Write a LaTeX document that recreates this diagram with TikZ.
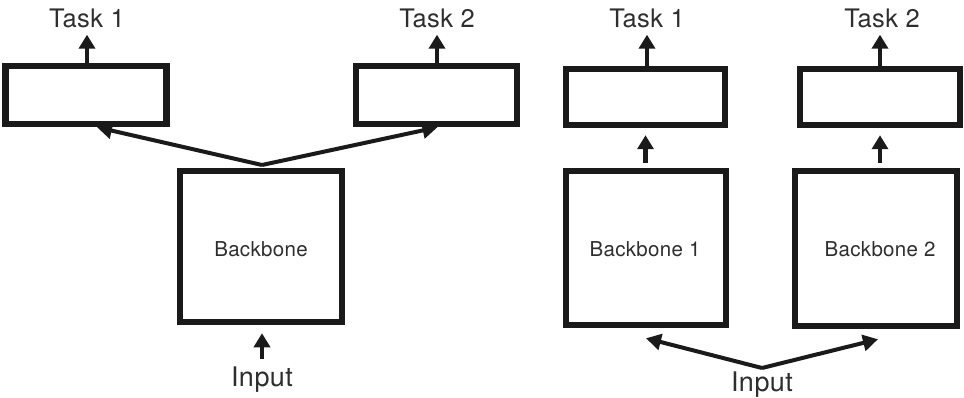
\documentclass[tikz,border=0pt]{standalone}
\usepackage{fontspec}
\setmainfont{TeX Gyre Heros}[LetterSpace=1.5]
\usetikzlibrary{arrows.meta}
\definecolor{ink}{HTML}{1A1A1A}
\definecolor{txt}{HTML}{2E2E2E}
\tikzset{
  box/.style={draw=ink, line width=6.5pt, fill=white, inner sep=0pt},
  label/.style={text=txt, inner sep=0pt, font=\fontsize{25.5}{29}\selectfont},
  inlabel/.style={text=txt, inner sep=0pt, font=\fontsize{27}{31}\selectfont},
  bblabel/.style={text=txt, inner sep=0pt, font=\fontsize{20.5}{24}\selectfont},
  arr/.style={draw=ink, line width=4.5pt, -{Triangle[width=16pt,length=14pt]}},
  varr/.style={draw=ink, line width=4pt, -{Triangle[width=16pt,length=15pt]}}
}
\begin{document}
\begin{tikzpicture}[x=1pt,y=-1pt]
\path[use as bounding box] (0,0) rectangle (964,398);

% ---- shared backbone ----
\node[box, minimum width=161pt, minimum height=58pt] (t1box) at (86,95) {};
\node[box, minimum width=161pt, minimum height=58pt] (t2box) at (436.5,95) {};
\node[box, minimum width=162pt, minimum height=151pt] (bb) at (261,246.5) {};
\node[bblabel] (bbtxt) at (261,249) {Backbone};
\node[label] (task1) at (87,18) {Task 1};
\node[label] (task2) at (437,18) {Task 2};
\node[inlabel] (in1) at (262,380) {Input};
\coordinate (split1) at (262,165);

\draw[arr, shorten >=7pt] (t1box.north -| task1) -- (task1.south -| task1);
\draw[arr, shorten >=7pt] (t2box.north -| task2) -- (task2.south -| task2);
\draw[varr] (split1) -- ([xshift=11pt]t1box.south);
\draw[varr] (split1) -- ([xshift=1pt]t2box.south);
\draw[arr, shorten <=8pt, shorten >=8pt] (in1.north) -- (in1.north |- bb.south);

% ---- separate backbones ----
\node[box, minimum width=159pt, minimum height=56pt] (r1box) at (645.5,97) {};
\node[box, minimum width=160pt, minimum height=56pt] (r2box) at (880,97) {};
\node[box, minimum width=160pt, minimum height=154pt] (bb1) at (646,248) {};
\node[box, minimum width=162pt, minimum height=155pt] (bb2) at (876,248.5) {};
\node[bblabel] (bb1txt) at (645,249) {Backbone 1};
\node[bblabel] (bb2txt) at (880,249) {Backbone 2};
\node[label] (task3) at (647,18) {Task 1};
\node[label] (task4) at (882,18) {Task 2};
\node[inlabel] (in2) at (762,385) {Input};
\coordinate (split2) at (762,368);

\draw[arr, shorten >=7pt] (r1box.north -| task3) -- (task3.south -| task3);
\draw[arr, shorten >=7pt] (r2box.north -| r2box) -- (task4.south -| r2box);
\draw[arr, shorten <=5pt, shorten >=7pt] (bb1.north -| r1box) -- (r1box.south);
\draw[arr, shorten <=5pt, shorten >=7pt] (bb2.north -| r2box) -- (r2box.south);
\draw[varr] (split2) -- ([yshift=-10pt]bb1.south);
\draw[varr] (split2) -- ([xshift=2pt,yshift=-10pt]bb2.south);
\end{tikzpicture}
\end{document}
